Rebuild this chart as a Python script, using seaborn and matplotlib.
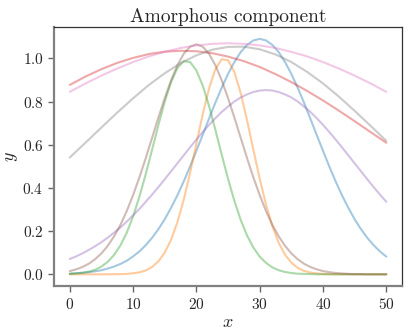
import matplotlib
matplotlib.use("Agg")
import matplotlib.pyplot as plt
import seaborn as sns
import pandas as pd
import numpy as np

# sample grids (narrow peaks sampled every 1, broad ones every 2.5)
x_fine = np.arange(0, 51, 1)
x_wide = np.arange(0, 50.1, 2.5)

# narrow components at x = 0, 1, ..., 50
blue = [0.003, 0.005, 0.007, 0.010, 0.014, 0.019, 0.027, 0.036, 0.048, 0.063,
        0.083, 0.106, 0.135, 0.169, 0.209, 0.255, 0.308, 0.366, 0.430, 0.499,
        0.572, 0.646, 0.721, 0.795, 0.864, 0.928, 0.983, 1.029, 1.062, 1.083,
        1.090, 1.083, 1.062, 1.029, 0.983, 0.928, 0.864, 0.795, 0.721, 0.646,
        0.572, 0.499, 0.430, 0.366, 0.308, 0.255, 0.209, 0.169, 0.135, 0.106,
        0.082]
orange = [0.0, 0.0, 0.0, 0.0, 0.0, 0.0001, 0.0002, 0.0004, 0.001, 0.002,
          0.005, 0.009, 0.018, 0.034, 0.060, 0.101, 0.160, 0.241, 0.345, 0.469,
          0.605, 0.741, 0.861, 0.950, 0.996, 0.991, 0.936, 0.839, 0.714, 0.577,
          0.443, 0.323, 0.223, 0.146, 0.091, 0.054, 0.030, 0.016, 0.008, 0.004,
          0.002, 0.001, 0.0, 0.0, 0.0, 0.0, 0.0, 0.0, 0.0, 0.0,
          0.0]
green = [0.002, 0.004, 0.007, 0.012, 0.021, 0.036, 0.058, 0.090, 0.134, 0.193,
         0.268, 0.360, 0.464, 0.577, 0.692, 0.799, 0.890, 0.955, 0.987, 0.983,
         0.944, 0.874, 0.779, 0.669, 0.554, 0.442, 0.340, 0.252, 0.180, 0.124,
         0.082, 0.053, 0.032, 0.019, 0.011, 0.006, 0.003, 0.002, 0.001, 0.0,
         0.0, 0.0, 0.0, 0.0, 0.0, 0.0, 0.0, 0.0, 0.0, 0.0,
         0.0]
purple = [0.071, 0.083, 0.097, 0.113, 0.130, 0.149, 0.170, 0.193, 0.217, 0.244,
          0.273, 0.303, 0.336, 0.369, 0.404, 0.440, 0.477, 0.514, 0.551, 0.588,
          0.624, 0.659, 0.692, 0.723, 0.752, 0.777, 0.800, 0.819, 0.833, 0.844,
          0.851, 0.853, 0.851, 0.844, 0.833, 0.819, 0.800, 0.777, 0.752, 0.723,
          0.692, 0.659, 0.624, 0.588, 0.551, 0.514, 0.477, 0.440, 0.404, 0.369,
          0.336]
brown = [0.015, 0.023, 0.034, 0.049, 0.070, 0.097, 0.132, 0.176, 0.229, 0.293,
         0.367, 0.449, 0.538, 0.632, 0.726, 0.816, 0.898, 0.968, 1.021, 1.054,
         1.065, 1.054, 1.021, 0.968, 0.898, 0.816, 0.726, 0.632, 0.538, 0.449,
         0.367, 0.293, 0.229, 0.176, 0.132, 0.097, 0.070, 0.049, 0.034, 0.023,
         0.015, 0.010, 0.006, 0.004, 0.002, 0.001, 0.001, 0.0, 0.0, 0.0,
         0.0]

# broad components, read at x = 0, 2.5, ..., 50
red = [0.877, 0.916, 0.950, 0.979, 1.002, 1.020, 1.031, 1.035, 1.033, 1.024,
       1.008, 0.987, 0.960, 0.927, 0.890, 0.849, 0.805, 0.758, 0.709, 0.659,
       0.609]
pink = [0.845, 0.884, 0.920, 0.953, 0.983, 1.009, 1.030, 1.048, 1.060, 1.067,
        1.070, 1.067, 1.060, 1.048, 1.030, 1.009, 0.983, 0.953, 0.920, 0.884,
        0.845]
gray = [0.541, 0.610, 0.680, 0.749, 0.815, 0.877, 0.931, 0.978, 1.014, 1.040,
        1.053, 1.054, 1.042, 1.018, 0.983, 0.937, 0.884, 0.823, 0.757, 0.688,
        0.618]

# drawing order follows the tab10 cycle
series = [("blue", x_fine, blue), ("orange", x_fine, orange), ("green", x_fine, green),
          ("red", x_wide, red), ("purple", x_fine, purple), ("brown", x_fine, brown),
          ("pink", x_wide, pink), ("gray", x_wide, gray)]

df = pd.concat([pd.DataFrame({"x": xs, "y": ys, "comp": name}) for name, xs, ys in series],
               ignore_index=True)
names = [s[0] for s in series]
palette = dict(zip(names, sns.color_palette("tab10", 8)))

sns.set_style("white")
plt.rcParams["font.family"] = "serif"
plt.rcParams["font.serif"] = ["cmr10"]
plt.rcParams["mathtext.fontset"] = "cm"
plt.rcParams["axes.formatter.use_mathtext"] = True

fig = plt.figure(figsize=(4.12, 3.35), dpi=100)
ax = fig.add_axes([0.131, 0.146, 0.845, 0.773])

sns.lineplot(data=df, x="x", y="y", hue="comp", hue_order=names, palette=palette,
             alpha=0.4, linewidth=1.5, legend=False, ax=ax, sort=False)

ax.set_xticks([0, 10, 20, 30, 40, 50])
ax.set_yticks([0.0, 0.2, 0.4, 0.6, 0.8, 1.0])
ax.set_xlabel("$x$", fontsize=13, labelpad=2)
ax.set_ylabel("$y$", fontsize=13, labelpad=2)
ax.set_title("Amorphous component", fontsize=14, pad=4)
ax.tick_params(axis="both", which="major", labelsize=11, direction="out",
               length=4, width=1, color="#666666", bottom=True, left=True)

for side in ["left", "bottom"]:
    ax.spines[side].set_color("#808080")
    ax.spines[side].set_linewidth(1.6)
for side in ["top", "right"]:
    ax.spines[side].set_color("#333333")
    ax.spines[side].set_linewidth(0.9)

fig.savefig("out.png", dpi=100)
